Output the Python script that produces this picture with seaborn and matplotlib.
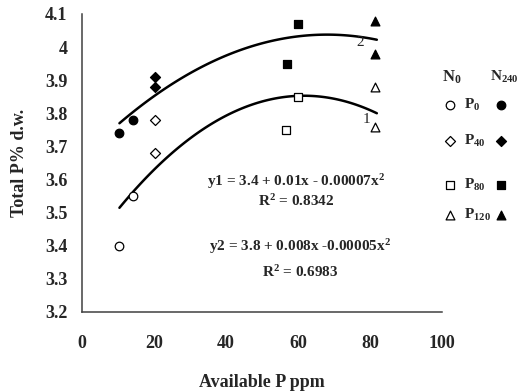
import numpy as np
import pandas as pd
import seaborn as sns
import matplotlib
matplotlib.use("Agg")
import matplotlib.pyplot as plt

# ---- data ----
p_levels = ["P0", "P0", "P40", "P40", "P80", "P80", "P120", "P120"]
n0_x = [10.4, 14.1, 20.3, 20.3, 56.8, 60.0, 81.5, 81.5]
n0_y = [3.40, 3.55, 3.78, 3.68, 3.75, 3.85, 3.88, 3.76]
n240_x = [10.4, 14.1, 20.3, 20.3, 56.9, 60.0, 81.5, 81.5]
n240_y = [3.74, 3.78, 3.91, 3.88, 3.95, 4.07, 4.08, 3.98]

# points
curve1_x = [10.4, 22.6, 35.6, 49.4, 60.1, 81.9]
curve1_y = [3.518, 3.649, 3.770, 3.835, 3.852, 3.800]
curve2_x = [10.4, 20.3, 35.6, 49.4, 65.2, 81.9]
curve2_y = [3.772, 3.852, 3.951, 4.011, 4.039, 4.021]

x_ticks = [0, 20, 40, 60, 80, 100]
y_ticks = [3.2, 3.3, 3.4, 3.5, 3.6, 3.7, 3.8, 3.9, 4.0, 4.1]
y_tick_labels = ["3.2", "3.3", "3.4", "3.5", "3.6", "3.7", "3.8", "3.9", "4", "4.1"]

eq1 = r"y1 = 3.4 + 0.01x - 0.00007x$^{2}$"
r1 = r"R$^{2}$ = 0.8342"
eq2 = r"y2 = 3.8 + 0.008x -0.00005x$^{2}$"
r2 = r"R$^{2}$ = 0.6983"

marker_map = {"P0": "o", "P40": "D", "P80": "s", "P120": "^"}
size_map = {"P0": 38, "P40": 26, "P80": 40, "P120": 40}
legend_labels = {"P0": r"P$_{0}$", "P40": r"P$_{40}$", "P80": r"P$_{80}$", "P120": r"P$_{120}$"}

# ---- style ----
sns.set_style("white")
plt.rcParams["font.family"] = ["Liberation Serif", "DejaVu Serif"]
plt.rcParams["font.weight"] = "bold"
plt.rcParams["mathtext.fontset"] = "custom"
plt.rcParams["mathtext.rm"] = "Liberation Serif:bold"
plt.rcParams["mathtext.it"] = "Liberation Serif:bold"
plt.rcParams["mathtext.bf"] = "Liberation Serif:bold"
plt.rcParams["mathtext.default"] = "rm"

fig = plt.figure(figsize=(5.21, 3.91), dpi=100)
ax = fig.add_axes([82 / 521, 1 - 312 / 391, 360 / 521, 298 / 391])

df0 = pd.DataFrame({"x": n0_x, "y": n0_y, "P": p_levels})
df240 = pd.DataFrame({"x": n240_x, "y": n240_y, "P": p_levels})

for p in marker_map:
    d0 = df0[df0["P"] == p]
    d1 = df240[df240["P"] == p]
    sns.scatterplot(data=d0, x="x", y="y", marker=marker_map[p], s=size_map[p],
                    color="white", edgecolor="black", linewidth=0.9, ax=ax, zorder=3, clip_on=False)
    sns.scatterplot(data=d1, x="x", y="y", marker=marker_map[p], s=size_map[p],
                    color="black", edgecolor="black", linewidth=0.9, ax=ax, zorder=3, clip_on=False)

# trend curves (quadratic through the points)
for cx, cy in [(curve1_x, curve1_y), (curve2_x, curve2_y)]:
    coef = np.polyfit(cx, cy, 2)
    xs = np.linspace(min(cx), max(cx), 100)
    sns.lineplot(x=xs, y=np.polyval(coef, xs), color="black", linewidth=1.8, ax=ax, zorder=2)

ax.text(77.2, 4.013, "2", fontsize=11, fontweight="normal", ha="center", va="center", zorder=4)
ax.text(78.9, 3.78, "1", fontsize=11, fontweight="normal", ha="center", va="center", zorder=4)

ax.text(59.5, 3.593, eq1, fontsize=11, ha="center", va="center")
ax.text(59.5, 3.536, r1, fontsize=11, ha="center", va="center")
ax.text(60.5, 3.398, eq2, fontsize=11, ha="center", va="center")
ax.text(60.5, 3.322, r2, fontsize=11, ha="center", va="center")

ax.set_xlim(0, 100)
ax.set_ylim(3.2, 4.1)
ax.set_xticks(x_ticks)
ax.set_xticklabels([str(v) for v in x_ticks], fontsize=13, fontweight="bold")
ax.set_yticks(y_ticks)
ax.set_yticklabels(y_tick_labels, fontsize=13, fontweight="bold")
ax.tick_params(direction="inout", length=9, width=1, color="#404040")
ax.tick_params(axis="x", pad=12)
ax.tick_params(axis="y", pad=6)
sns.despine(ax=ax)
for s in ["left", "bottom"]:
    ax.spines[s].set_color("#404040")
    ax.spines[s].set_linewidth(1.1)

ax.set_xlabel("Available P ppm", fontsize=13, fontweight="bold", labelpad=16)
ax.set_ylabel("Total P% d.w.", fontsize=13, fontweight="bold", labelpad=12)

# ---- custom legend at right ----
def fx(px):
    return px / 521

def fy(py):
    return 1 - py / 391

fig.text(fx(452), fy(77), r"N$_{0}$", fontsize=12, ha="center", va="center")
fig.text(fx(504), fy(77), r"N$_{240}$", fontsize=11, ha="center", va="center")
rows = {"P0": 105, "P40": 141, "P80": 185, "P120": 215}
for p, py in rows.items():
    ax.scatter([fx(450)], [fy(py)], transform=fig.transFigure, marker=marker_map[p],
               s=size_map[p], facecolor="white", edgecolor="black", linewidth=0.9, clip_on=False)
    ax.scatter([fx(501)], [fy(py)], transform=fig.transFigure, marker=marker_map[p],
               s=size_map[p], facecolor="black", edgecolor="black", linewidth=0.9, clip_on=False)
    fig.text(fx(464), fy(py), legend_labels[p], fontsize=11, ha="left", va="center")

fig.savefig("out.png", dpi=100)
